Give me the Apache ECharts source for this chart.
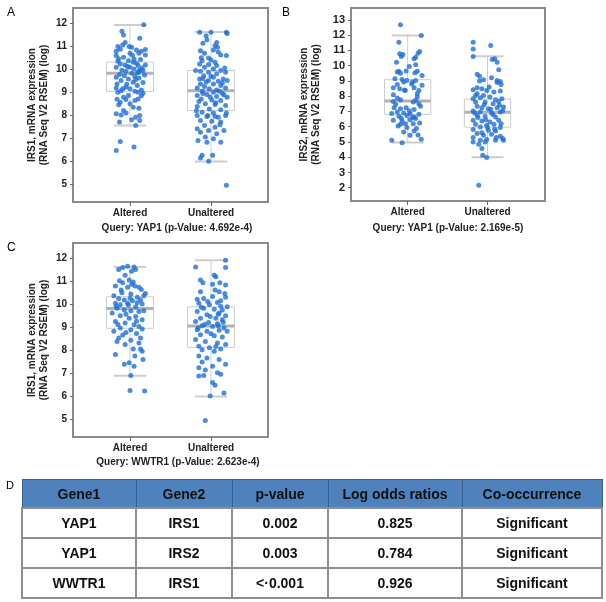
<!DOCTYPE html>
<html>
<head>
<meta charset="utf-8">
<script src="https://cdn.jsdelivr.net/npm/echarts@6/dist/echarts.min.js"></script>
<style>
  body { margin: 0; background: #fff; }
  #main { position: absolute; left: 0; top: 0; width: 606px; height: 602px; }
  #tbl {
    position: absolute; left: 21px; top: 479px; width: 580px;
    border-collapse: collapse; table-layout: fixed;
    font-family: "Liberation Sans", Arial, sans-serif; font-weight: bold; font-size: 14px; color: #111;
  }
  #tbl th { background: #4f81bd; height: 27px; border: 1px solid #3b5f8c; font-weight: bold; padding: 0; }
  #tbl td { height: 28px; border: 2px solid #8f8f8f; text-align: center; padding: 0; }
</style>
</head>
<body>
<div id="main"></div>
<table id="tbl"></table>
<script>
// categories and labels
const groups = ['Altered', 'Unaltered'];
const yTicksIrs1 = [5, 6, 7, 8, 9, 10, 11, 12];
const yTicksIrs2 = [2, 3, 4, 5, 6, 7, 8, 9, 10, 11, 12, 13];
const queries = ['Query: YAP1 (p-Value: 4.692e-4)', 'Query: YAP1 (p-Value: 2.169e-5)', 'Query: WWTR1 (p-Value: 2.623e-4)'];

// box stats per group: [low whisker, Q1, median, Q3, high whisker]
const boxA = [[7.56, 9.04, 9.82, 10.31, 11.91], [6.0, 8.21, 9.07, 9.94, 11.61]];
const boxB = [[4.97, 6.81, 7.68, 9.08, 11.97], [3.99, 5.97, 6.94, 7.81, 10.62]];
const boxC = [[6.87, 8.94, 9.8, 10.31, 11.61], [5.97, 8.11, 9.04, 9.87, 11.9]];

// points: [jitter offset from category, value]
const irs1YapAltered = [[-0.10,11.64],[-0.08,11.48],[0.12,11.34],[-0.06,11.16],[-0.09,11.05],[-0.15,10.98],[-0.01,10.98],[0.02,10.95],[-0.17,10.78],[-0.12,10.86],[0.08,10.83],[0.14,10.78],[0.19,10.85],[0.11,10.69],[0.0,10.69],[-0.17,10.59],[0.19,10.62],[-0.08,10.52],[0.05,10.44],[-0.15,10.34],[-0.02,10.37],[0.04,10.30],[0.08,10.26],[-0.12,10.23],[-0.06,10.18],[0.10,10.16],[0.19,10.18],[-0.17,10.08],[0.0,10.08],[0.05,10.01],[0.12,9.97],[0.16,9.94],[0.11,9.90],[-0.05,9.91],[-0.13,9.77],[0.02,9.82],[-0.07,9.72],[0.06,9.68],[-0.17,9.65],[0.11,9.62],[-0.02,9.58],[-0.11,9.51],[0.04,9.44],[-0.16,9.36],[0.16,9.42],[0.09,9.29],[-0.05,9.22],[-0.17,9.19],[0.0,9.15],[0.14,9.10],[-0.11,9.07],[0.06,9.05],[0.16,8.96],[0.10,9.0],[-0.15,9.0],[-0.02,8.86],[-0.08,8.79],[-0.16,8.70],[-0.05,8.69],[0.06,8.64],[-0.12,8.57],[0.10,8.71],[0.0,8.50],[-0.14,8.46],[0.04,8.35],[0.11,8.31],[-0.08,8.21],[-0.17,8.07],[-0.11,8.02],[-0.05,8.10],[0.12,7.99],[0.07,7.92],[0.02,7.81],[-0.13,7.71],[0.12,7.78],[0.07,7.56],[-0.12,6.87],[-0.17,6.48],[0.05,6.63],[0.17,11.93],[0.15,10.05],[-0.03,10.12],[0.09,9.85],[-0.10,9.95],[0.13,10.42],[-0.14,10.45],[0.07,9.55],[-0.04,9.35],[0.18,9.75],[0.03,10.60],[-0.09,9.15],[0.14,8.85]];
const irs1YapUnaltered = [[-0.14,11.60],[0,11.60],[0.19,11.60],[0.20,11.55],[-0.06,11.45],[-0.05,11.27],[-0.10,11.12],[0.07,11.16],[0.05,11.02],[0.08,10.95],[-0.13,10.80],[-0.08,10.69],[0.03,10.83],[0.19,10.59],[0.12,10.62],[-0.03,10.49],[-0.11,10.37],[0,10.40],[0.05,10.30],[-0.14,10.23],[-0.03,10.20],[0.07,10.16],[-0.08,10.08],[0.03,10.01],[-0.19,9.94],[-0.13,9.91],[0.12,9.94],[-0.03,9.87],[0.07,9.80],[0.18,9.87],[-0.09,9.72],[0.03,9.65],[-0.14,9.58],[0.15,9.58],[-0.03,9.51],[0.09,9.48],[0.20,9.51],[-0.13,9.36],[0.03,9.36],[-0.08,9.25],[0.12,9.29],[-0.17,9.19],[-0.02,9.15],[0.07,9.10],[0.18,9.19],[-0.11,9.05],[0.03,9.00],[0.14,8.96],[-0.17,8.86],[-0.05,8.90],[0.07,8.82],[0.20,8.79],[-0.12,8.71],[0.01,8.67],[0.12,8.64],[-0.07,8.50],[0.05,8.47],[-0.17,8.38],[0.18,8.43],[-0.02,8.28],[0.12,8.24],[-0.11,8.14],[0.03,8.10],[-0.17,7.99],[-0.05,7.95],[0.09,7.92],[0.18,7.99],[-0.13,7.78],[0.01,7.75],[0.12,7.71],[-0.08,7.56],[0.05,7.49],[-0.17,7.42],[-0.03,7.35],[0.16,7.35],[-0.13,7.27],[0.07,7.20],[-0.07,7.06],[0.03,6.99],[-0.16,6.91],[-0.05,6.84],[0.12,6.84],[-0.11,6.27],[-0.13,6.16],[0.02,6.27],[-0.03,6.01],[0.19,4.97],[0.10,9.05],[-0.10,8.95],[0.16,8.88],[-0.01,8.80],[0.06,8.55],[-0.15,8.60],[0.14,9.40],[-0.06,9.45],[0.00,9.70],[0.17,10.05],[-0.12,10.50],[0.09,10.75],[-0.18,8.20],[0.05,7.95],[0.19,8.10],[-0.04,8.00],[0.11,7.60],[-0.10,9.60]];
const irs2YapAltered = [[-0.09,12.69],[0.17,11.98],[-0.11,11.54],[-0.10,10.78],[-0.06,10.73],[-0.08,10.60],[0.15,10.93],[0.13,10.82],[0.08,10.45],[-0.14,10.23],[0.10,10.06],[0.02,9.95],[-0.11,9.64],[-0.13,9.58],[-0.09,9.51],[0.12,9.64],[0.09,9.54],[-0.16,9.14],[-0.07,9.10],[-0.01,9.03],[0.10,9.03],[0.06,8.93],[-0.05,8.93],[-0.13,8.77],[0.18,8.71],[-0.18,8.56],[-0.10,8.49],[0.08,8.56],[0.14,8.38],[-0.03,8.38],[-0.18,8.10],[0.12,8.16],[-0.13,7.88],[-0.09,7.77],[0.10,7.73],[0.07,7.62],[0.14,7.51],[0.16,7.34],[-0.17,7.25],[-0.09,7.18],[-0.02,7.25],[0.08,7.12],[-0.13,6.97],[-0.05,6.90],[0.03,6.86],[0.14,6.81],[-0.20,6.86],[-0.11,6.68],[-0.01,6.73],[0.08,6.64],[-0.18,6.42],[-0.07,6.38],[0.03,6.46],[0.10,6.53],[-0.03,6.20],[-0.09,6.16],[0.07,6.20],[-0.01,5.94],[0.11,5.88],[0.08,5.72],[0.03,5.44],[-0.20,5.11],[0.17,5.18],[-0.07,4.94],[0.05,8.80],[-0.04,8.40],[0.12,7.95],[-0.15,7.45],[0.02,7.05],[-0.08,6.55],[0.15,6.25],[-0.12,6.05],[0.06,6.60],[0.18,9.35],[-0.02,9.65],[0.10,10.55],[-0.18,7.65],[0.13,5.45],[-0.05,5.65]];
const irs2YapUnaltered = [[-0.18,11.54],[-0.18,11.10],[0.04,11.32],[-0.18,10.60],[0.09,10.45],[0.12,10.23],[0.14,9.73],[-0.13,9.43],[-0.10,9.30],[0.05,9.21],[0.12,9.03],[-0.05,9.08],[0.16,8.97],[0.17,8.77],[-0.13,8.56],[-0.07,8.49],[-0.18,8.42],[-0.01,8.38],[0.08,8.27],[0.16,8.34],[-0.13,8.16],[-0.05,8.05],[-0.18,7.84],[-0.09,7.90],[0.03,7.95],[0.10,7.77],[0.18,7.84],[-0.15,7.62],[-0.03,7.62],[0.07,7.51],[0.15,7.40],[-0.13,7.34],[-0.07,7.25],[0.01,7.18],[0.12,7.25],[0.20,7.29],[-0.18,7.03],[-0.09,6.97],[0.05,6.90],[0.16,6.97],[-0.13,6.75],[-0.03,6.68],[0.10,6.64],[-0.18,6.42],[-0.07,6.38],[0.03,6.31],[0.14,6.42],[-0.15,6.16],[-0.01,6.09],[0.08,6.16],[-0.09,5.98],[0.16,5.94],[-0.18,5.81],[0.01,5.77],[0.10,5.72],[-0.13,5.55],[-0.05,5.44],[0.05,5.51],[0.16,5.37],[0.19,5.22],[-0.18,5.29],[-0.09,5.11],[-0.01,5.16],[0.10,5.11],[0.20,5.11],[-0.18,5.00],[-0.03,5.00],[-0.11,4.85],[-0.07,4.57],[-0.06,4.13],[-0.01,3.98],[-0.11,2.17],[0.02,8.60],[-0.15,8.05],[0.14,7.65],[-0.04,7.45],[0.07,6.80],[-0.12,6.60],[0.17,6.20],[0.00,5.95],[-0.07,5.60],[0.11,5.30],[-0.16,6.90],[0.04,7.15],[0.19,7.05],[-0.02,6.45],[0.09,5.85],[-0.10,9.00],[0.12,8.90],[0.06,10.40]];
const irs1WwtrAltered = [[-0.14,11.50],[-0.09,11.58],[-0.03,11.64],[0.02,11.42],[0.07,11.50],[0.05,11.61],[-0.06,11.25],[-0.13,11.01],[-0.09,10.92],[-0.01,11.04],[0.02,10.86],[0.11,10.72],[0.14,10.63],[-0.18,10.78],[-0.03,10.72],[0.06,10.78],[-0.10,10.49],[-0.20,10.35],[0.01,10.43],[-0.14,10.24],[0.09,10.29],[0.17,10.35],[-0.07,10.17],[0.03,10.14],[0.13,10.17],[-0.18,10.03],[-0.12,9.96],[-0.03,10.03],[0.07,9.88],[0.15,10.0],[-0.16,9.81],[-0.07,9.74],[0.01,9.70],[0.11,9.67],[-0.22,9.60],[-0.12,9.48],[-0.01,9.38],[0.07,9.45],[0.15,9.31],[-0.18,9.24],[-0.06,9.17],[0.05,9.09],[0.11,9.02],[-0.12,8.95],[0.01,8.88],[0.15,8.91],[-0.20,8.81],[-0.05,8.76],[0.08,8.71],[-0.14,8.52],[0.01,8.42],[0.13,8.52],[-0.16,8.37],[-0.06,8.23],[0.11,8.30],[0.04,8.04],[0.13,8.04],[0.15,7.94],[-0.18,7.80],[0.06,7.73],[0.16,7.58],[-0.07,7.37],[-0.01,7.44],[0.05,7.29],[0.01,6.89],[0.0,6.23],[0.18,6.21],[-0.02,9.95],[0.09,10.05],[-0.11,10.60],[0.04,10.95],[-0.05,9.55],[0.17,9.70],[-0.15,9.10],[0.08,9.25],[-0.09,8.65],[0.19,10.45],[0.00,10.25],[-0.17,9.90]];
const irs1WwtrUnaltered = [[0.18,11.90],[-0.19,11.61],[0.18,11.58],[-0.13,11.04],[-0.10,10.92],[0.04,11.25],[0.06,11.18],[0.02,10.86],[0.11,10.92],[0.18,10.82],[0.05,10.60],[-0.13,10.53],[0.10,10.53],[-0.17,10.20],[-0.09,10.24],[0.02,10.32],[0.12,10.14],[0.18,10.29],[-0.15,10.03],[-0.02,9.96],[0.08,10.06],[0.20,9.88],[-0.09,9.81],[0.04,9.77],[0.14,9.74],[-0.17,9.67],[0.10,9.60],[-0.05,9.53],[0.18,9.48],[-0.13,9.38],[0.06,9.38],[0.14,9.31],[-0.19,9.24],[-0.03,9.19],[0.08,9.14],[-0.11,9.05],[0.02,9.02],[0.16,8.95],[-0.17,8.88],[-0.05,8.81],[0.10,8.85],[0.20,8.81],[-0.13,8.66],[0.04,8.62],[0.14,8.56],[-0.19,8.45],[-0.07,8.37],[0.08,8.30],[0.18,8.23],[-0.15,8.16],[-0.02,8.09],[0.12,8.04],[-0.11,8.01],[0.04,7.94],[-0.15,7.73],[-0.05,7.65],[0.10,7.58],[0.18,7.37],[-0.11,7.47],[0.02,7.29],[-0.15,7.22],[-0.07,7.12],[0.08,7.01],[-0.15,6.86],[-0.09,6.89],[0.12,6.94],[0.02,6.58],[0.05,6.46],[-0.01,5.99],[0.16,6.12],[-0.07,4.93],[0.09,9.05],[-0.08,9.10],[0.15,9.20],[-0.01,9.45],[0.12,9.90],[-0.12,9.85],[0.00,8.70],[-0.16,8.95],[0.06,8.15],[0.17,10.45],[-0.04,10.10],[0.09,9.55]];

// table D
const tableHeader = ['Gene1', 'Gene2', 'p-value', 'Log odds ratios', 'Co-occurrence'];
const gene1 = ['YAP1', 'YAP1', 'WWTR1'];
const gene2 = ['IRS1', 'IRS2', 'IRS1'];
const pValues = ['0.002', '0.003', '<\u00b70.001'];
const logOdds = ['0.825', '0.784', '0.926'];
const cooccur = ['Significant', 'Significant', 'Significant'];

const FONT = '"Liberation Sans", Arial, sans-serif';
const DOT = '#1f6fd6';

function renderBox(params, api) {
  var x = api.value(0);
  var lo = api.value(1), q1 = api.value(2), md = api.value(3), q3 = api.value(4), hi = api.value(5);
  var p = function (dx, v) { return api.coord([x + dx, v]); };
  var seg = function (dx1, v1, dx2, v2, style) {
    var a = p(dx1, v1), b = p(dx2, v2);
    return { type: 'line', shape: { x1: a[0], y1: a[1], x2: b[0], y2: b[1] }, style: style };
  };
  var thin = { stroke: '#cdcdcd', lineWidth: 1 };
  var cap = { stroke: '#cdcdcd', lineWidth: 2 };
  var tl = p(-0.29, q3), br = p(0.29, q1);
  return {
    type: 'group',
    children: [
      seg(0, q3, 0, hi, thin),
      seg(0, lo, 0, q1, thin),
      seg(-0.2, hi, 0.2, hi, cap),
      seg(-0.2, lo, 0.2, lo, cap),
      { type: 'rect', shape: { x: tl[0], y: tl[1], width: br[0] - tl[0], height: br[1] - tl[1] },
        style: { fill: 'none', stroke: '#cdcdcd', lineWidth: 1 } },
      seg(-0.29, md, 0.29, md, { stroke: '#b2b2b2', lineWidth: 3 })
    ]
  };
}

function boxData(stats) {
  return stats.map((s, i) => [i + 1].concat(s));
}
function pts(list, cat) {
  return list.map(d => [cat + d[0], d[1]]);
}

const grids = [
  { left: 73, top: 8, width: 195, height: 194 },
  { left: 351, top: 8, width: 194, height: 193 },
  { left: 73, top: 243, width: 195, height: 194 }
];
const yRanges = [[4.25, 12.65], [1.13, 13.78], [4.21, 12.65]];
const xRanges = [[0.296, 2.704], [0.29, 2.72], [0.296, 2.704]];
const yTicks = [yTicksIrs1, yTicksIrs2, yTicksIrs1];
const yNames = ['IRS1, mRNA expression\n(RNA Seq V2 RSEM) (log)', 'IRS2, mRNA expression\n(RNA Seq V2 RSEM) (log)', 'IRS1, mRNA expression\n(RNA Seq V2 RSEM) (log)'];
const boxes = [boxA, boxB, boxC];
const scatterSets = [[irs1YapAltered, irs1YapUnaltered], [irs2YapAltered, irs2YapUnaltered], [irs1WwtrAltered, irs1WwtrUnaltered]];

const option = {
  backgroundColor: '#fff',
  animation: false,
  textStyle: { fontFamily: FONT },
  grid: grids.map(g => Object.assign({ show: true, borderColor: '#8a8a8a', borderWidth: 2, backgroundColor: 'transparent' }, g)),
  xAxis: grids.map((g, i) => ({
    type: 'value', gridIndex: i, min: xRanges[i][0], max: xRanges[i][1],
    splitLine: { show: false },
    axisLine: { show: false },
    axisTick: { show: true, customValues: [1, 2], length: 4, lineStyle: { color: '#666' } },
    axisLabel: { customValues: [1, 2], formatter: v => groups[Math.round(v) - 1], margin: 6,
      fontSize: 10, fontWeight: 'bold', color: '#222', fontFamily: FONT }
  })),
  yAxis: grids.map((g, i) => ({
    type: 'value', gridIndex: i, min: yRanges[i][0], max: yRanges[i][1],
    splitLine: { show: false },
    axisLine: { show: false },
    axisTick: { show: true, customValues: yTicks[i], length: 3, lineStyle: { color: '#666' } },
    axisLabel: { customValues: yTicks[i], margin: 6, fontSize: i === 1 ? 11 : 10, fontWeight: 'bold', color: '#222', fontFamily: FONT },
    name: yNames[i], nameLocation: 'middle', nameRotate: 90, nameGap: i === 1 ? 29 : 23,
    nameTextStyle: { fontSize: 10, fontWeight: 'bold', color: '#222', lineHeight: 12, fontFamily: FONT }
  })),
  series: [],
  graphic: [
    { type: 'text', left: 7, top: 7, style: { text: 'A', font: '12px ' + FONT, fill: '#000' } },
    { type: 'text', left: 282, top: 7, style: { text: 'B', font: '12px ' + FONT, fill: '#000' } },
    { type: 'text', left: 7, top: 242, style: { text: 'C', font: '12px ' + FONT, fill: '#000' } },
    { type: 'text', left: 6, top: 480, style: { text: 'D', font: '11px ' + FONT, fill: '#000' } },
    { type: 'text', x: 177, y: 228, style: { text: queries[0], font: 'bold 10px ' + FONT, fill: '#222', align: 'center', verticalAlign: 'middle' } },
    { type: 'text', x: 448, y: 228, style: { text: queries[1], font: 'bold 10px ' + FONT, fill: '#222', align: 'center', verticalAlign: 'middle' } },
    { type: 'text', x: 178, y: 462, style: { text: queries[2], font: 'bold 10px ' + FONT, fill: '#222', align: 'center', verticalAlign: 'middle' } }
  ]
};

for (let i = 0; i < 3; i++) {
  option.series.push({
    type: 'custom', xAxisIndex: i, yAxisIndex: i, renderItem: renderBox,
    data: boxData(boxes[i]), z: 2, silent: true
  });
  scatterSets[i].forEach((list, c) => {
    option.series.push({
      type: 'scatter', xAxisIndex: i, yAxisIndex: i, data: pts(list, c + 1),
      symbolSize: 5, itemStyle: { color: DOT }, z: 3, silent: true
    });
  });
}

const chart = echarts.init(document.getElementById('main'), null, { renderer: 'canvas' });
chart.setOption(option);

// table
const tbl = document.getElementById('tbl');
let html = '<colgroup><col style="width:114px"><col style="width:96px"><col style="width:96px"><col style="width:134px"><col style="width:140px"></colgroup>';
html += '<tr>' + tableHeader.map(h => '<th>' + h + '</th>').join('') + '</tr>';
for (let r = 0; r < gene1.length; r++) {
  html += '<tr>' + [gene1[r], gene2[r], pValues[r], logOdds[r], cooccur[r]].map(v => '<td>' + v.replace('<', '&lt;') + '</td>').join('') + '</tr>';
}
tbl.innerHTML = html;
</script>
</body>
</html>
